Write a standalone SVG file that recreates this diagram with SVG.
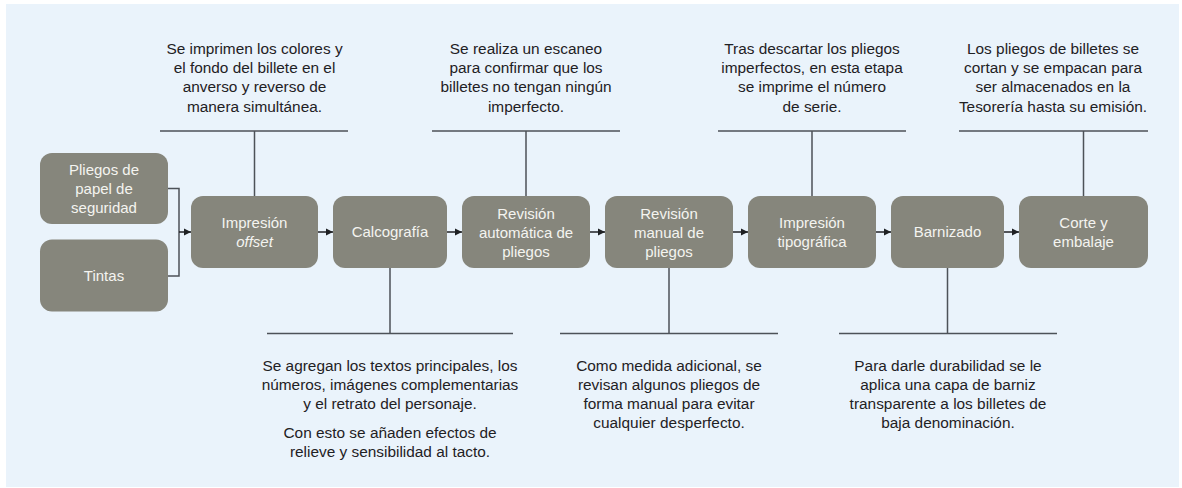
<svg xmlns="http://www.w3.org/2000/svg" width="1182" height="488" viewBox="0 0 1182 488">
<defs>
<style>
.box{fill:#86867c;}
.bt{font-family:"Liberation Sans",Arial,sans-serif;font-size:15px;fill:#f4f4f0;text-anchor:middle;}
.dt{font-family:"Liberation Sans",Arial,sans-serif;font-size:15.4px;fill:#1f2124;text-anchor:middle;}
.ln{stroke:#4d5258;stroke-width:1.5;fill:none;}
.ar{stroke:#1f2124;stroke-width:1.5;fill:none;}
</style>
<marker id="ah" markerWidth="8" markerHeight="8" refX="7" refY="4" orient="auto" markerUnits="userSpaceOnUse">
<path d="M0,0.5 L7,4 L0,7.5 Z" fill="#1f2124"/>
</marker>
</defs>
<rect x="6" y="4" width="1173" height="483" fill="#eaf3fb"/>

<g id="connectors">
<path class="ln" d="M168,188.5 H179 V276 H168"/>
<path class="ar" d="M179,232 H191" marker-end="url(#ah)"/>
<path class="ar" d="M318,232 H333" marker-end="url(#ah)"/>
<path class="ar" d="M447,232 H462" marker-end="url(#ah)"/>
<path class="ar" d="M590,232 H605" marker-end="url(#ah)"/>
<path class="ar" d="M733,232 H748" marker-end="url(#ah)"/>
<path class="ar" d="M876,232 H891" marker-end="url(#ah)"/>
<path class="ar" d="M1004,232 H1019" marker-end="url(#ah)"/>
<path class="ln" d="M160,131 H348 M254.5,131 V196"/>
<path class="ln" d="M432,131 H620 M526,131 V196"/>
<path class="ln" d="M718,131 H906 M812,131 V196"/>
<path class="ln" d="M959,131 H1148 M1083.5,131 V196"/>
<path class="ln" d="M267,333.5 H513 M390,268 V333.5"/>
<path class="ln" d="M560,333.5 H778 M669,268 V333.5"/>
<path class="ln" d="M839,333.5 H1057 M947.5,268 V333.5"/>
</g>

<g id="n-pliegos">
<rect class="box" x="40" y="153" width="128" height="71" rx="12"/>
<text class="bt" x="104" y="174.5">Pliegos de</text>
<text class="bt" x="104" y="193.5">papel de</text>
<text class="bt" x="104" y="212.5">seguridad</text>
</g>
<g id="n-tintas">
<rect class="box" x="40" y="239.5" width="128" height="72" rx="12"/>
<text class="bt" x="104" y="280.5">Tintas</text>
</g>
<g id="n-offset">
<rect class="box" x="191" y="196" width="127" height="72" rx="12"/>
<text class="bt" x="254.5" y="228">Impresión</text>
<text class="bt" x="254.5" y="247" font-style="italic">offset</text>
</g>
<g id="n-calco">
<rect class="box" x="333" y="196" width="114" height="72" rx="12"/>
<text class="bt" x="390" y="237">Calcografía</text>
</g>
<g id="n-auto">
<rect class="box" x="462" y="196" width="128" height="72" rx="12"/>
<text class="bt" x="526" y="218.5">Revisión</text>
<text class="bt" x="526" y="237.5">automática de</text>
<text class="bt" x="526" y="256.5">pliegos</text>
</g>
<g id="n-manual">
<rect class="box" x="605" y="196" width="128" height="72" rx="12"/>
<text class="bt" x="669" y="218.5">Revisión</text>
<text class="bt" x="669" y="237.5">manual de</text>
<text class="bt" x="669" y="256.5">pliegos</text>
</g>
<g id="n-tipo">
<rect class="box" x="748" y="196" width="128" height="72" rx="12"/>
<text class="bt" x="812" y="228">Impresión</text>
<text class="bt" x="812" y="247">tipográfica</text>
</g>
<g id="n-barniz">
<rect class="box" x="891" y="196" width="113" height="72" rx="12"/>
<text class="bt" x="947.5" y="237">Barnizado</text>
</g>
<g id="n-corte">
<rect class="box" x="1019" y="196" width="129" height="72" rx="12"/>
<text class="bt" x="1083.5" y="228">Corte y</text>
<text class="bt" x="1083.5" y="247">embalaje</text>
</g>

<g id="d-offset">
<text class="dt" x="254.5" y="54">Se imprimen los colores y</text>
<text class="dt" x="254.5" y="73.2">el fondo del billete en el</text>
<text class="dt" x="254.5" y="92.4">anverso y reverso de</text>
<text class="dt" x="254.5" y="111.6">manera simultánea.</text>
</g>
<g id="d-auto">
<text class="dt" x="526" y="54">Se realiza un escaneo</text>
<text class="dt" x="526" y="73.2">para confirmar que los</text>
<text class="dt" x="526" y="92.4">billetes no tengan ningún</text>
<text class="dt" x="526" y="111.6">imperfecto.</text>
</g>
<g id="d-tipo">
<text class="dt" x="812" y="54">Tras descartar los pliegos</text>
<text class="dt" x="812" y="73.2">imperfectos, en esta etapa</text>
<text class="dt" x="812" y="92.4">se imprime el número</text>
<text class="dt" x="812" y="111.6">de serie.</text>
</g>
<g id="d-corte">
<text class="dt" x="1053" y="54">Los pliegos de billetes se</text>
<text class="dt" x="1053" y="73.2">cortan y se empacan para</text>
<text class="dt" x="1053" y="92.4">ser almacenados en la</text>
<text class="dt" x="1053" y="111.6">Tesorería hasta su emisión.</text>
</g>
<g id="d-calco">
<text class="dt" x="390" y="371">Se agregan los textos principales, los</text>
<text class="dt" x="390" y="390">números, imágenes complementarias</text>
<text class="dt" x="390" y="409">y el retrato del personaje.</text>
<text class="dt" x="390" y="437.5">Con esto se añaden efectos de</text>
<text class="dt" x="390" y="456.5">relieve y sensibilidad al tacto.</text>
</g>
<g id="d-manual">
<text class="dt" x="669" y="371">Como medida adicional, se</text>
<text class="dt" x="669" y="390">revisan algunos pliegos de</text>
<text class="dt" x="669" y="409">forma manual para evitar</text>
<text class="dt" x="669" y="428">cualquier desperfecto.</text>
</g>
<g id="d-barniz">
<text class="dt" x="948" y="371">Para darle durabilidad se le</text>
<text class="dt" x="948" y="390">aplica una capa de barniz</text>
<text class="dt" x="948" y="409">transparente a los billetes de</text>
<text class="dt" x="948" y="428">baja denominación.</text>
</g>
</svg>
